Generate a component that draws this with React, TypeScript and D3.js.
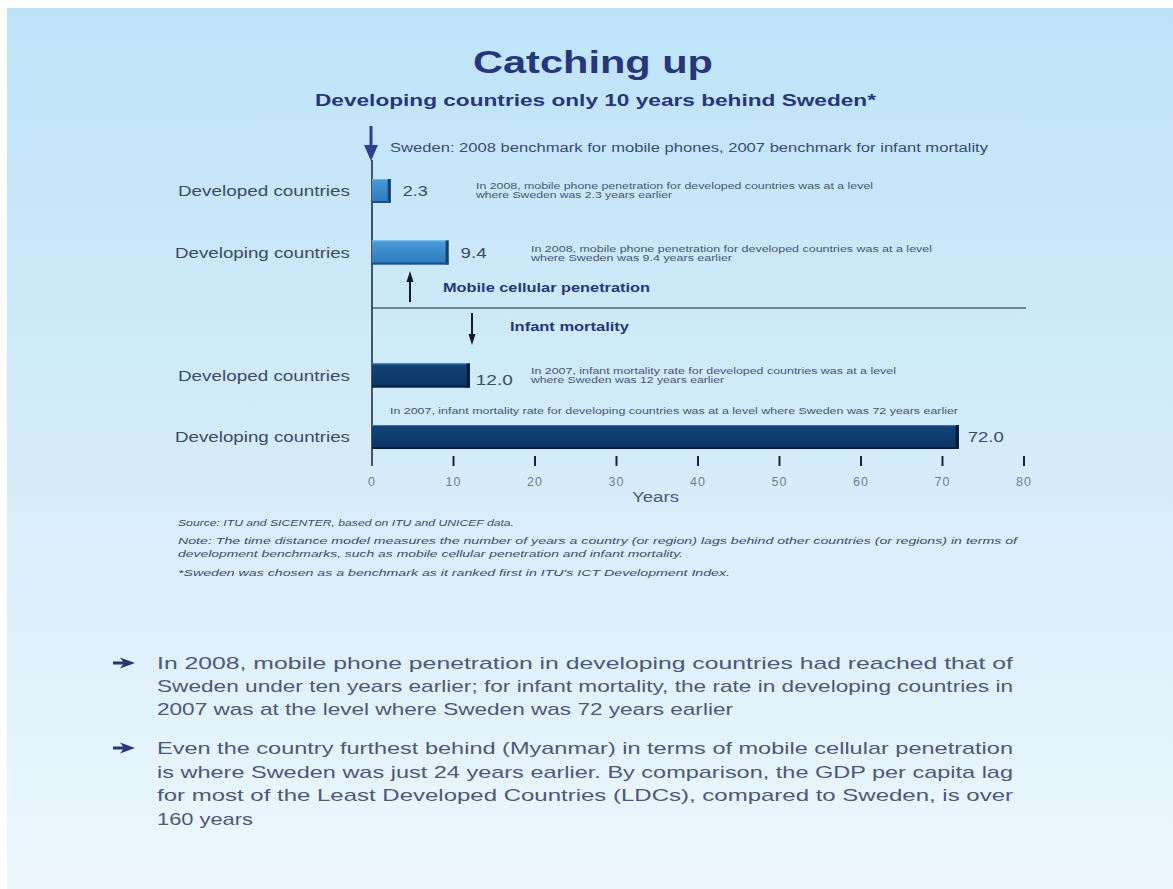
import React from "react";
import * as d3 from "d3";

const slots = ["mob-dev", "mob-ding", "gap", "inf-dev", "inf-ding"];
const barSlots = ["mob-dev", "mob-ding", "inf-dev", "inf-ding"];
const categories = ["Developed countries", "Developing countries", "Developed countries", "Developing countries"];
const groups = ["mobile", "mobile", "infant", "infant"];
const values = [2.3, 9.4, 12.0, 72.0];
const valueLabels = ["2.3", "9.4", "12.0", "72.0"];
const annotations = [
  ["In 2008, mobile phone penetration for developed countries was at a level", "where Sweden was 2.3 years earlier"],
  ["In 2008, mobile phone penetration for developed countries was at a level", "where Sweden was 9.4 years earlier"],
  ["In 2007, infant mortality rate for developed countries was at a level", "where Sweden was 12 years earlier"],
  ["In 2007, infant mortality rate for developing countries was at a level where Sweden was 72 years earlier"],
];
const xTicks = [0, 10, 20, 30, 40, 50, 60, 70, 80];

const title = "Catching up";
const subtitle = "Developing countries only 10 years behind Sweden*";
const benchmarkNote = "Sweden: 2008 benchmark for mobile phones, 2007 benchmark for infant mortality";
const sectionLabels = ["Mobile cellular penetration", "Infant mortality"];
const footnotes = [
  "Source: ITU and SICENTER, based on ITU and UNICEF data.",
  "Note: The time distance model measures the number of years a country (or region) lags behind other countries (or regions) in terms of",
  "development benchmarks, such as mobile cellular penetration and infant mortality.",
  "*Sweden was chosen as a benchmark as it ranked first in ITU's ICT Development Index.",
];
const bullets = [
  [
    "In 2008, mobile phone penetration in developing countries had reached that of",
    "Sweden under ten years earlier; for infant mortality, the rate in developing countries in",
    "2007 was at the level where Sweden was 72 years earlier",
  ],
  [
    "Even the country furthest behind (Myanmar) in terms of mobile cellular penetration",
    "is where Sweden was just 24 years earlier. By comparison, the GDP per capita lag",
    "for most of the Least Developed Countries (LDCs), compared to Sweden, is over",
    "160 years",
  ],
];

const FONT = "'Liberation Sans', Arial, Helvetica, sans-serif";
const NAVY = "#27367c";

function T(props: any) {
  const { x, y, w, size, weight, fill, anchor, italic, children } = props;
  return (
    <text
      x={x}
      y={y}
      fontSize={size}
      fontWeight={weight || "normal"}
      fontStyle={italic ? "italic" : "normal"}
      fill={fill || "#3c4a6e"}
      textAnchor={anchor || "start"}
      fontFamily={FONT}
      textLength={w}
      lengthAdjust={w ? "spacingAndGlyphs" : undefined}
    >
      {children}
    </text>
  );
}

export default function App() {
  const W = 1173;
  const H = 889;
  const x = d3.scaleLinear().domain([0, 80]).range([372, 1024]);
  const yc = d3.scalePoint<string>().domain(slots).range([191, 437]);
  const barH = 24;

  const catWidths = [172, 175, 172, 175];
  const valueWidths = [25, 26, 37, 36];
  const valueDy = [5, 5, 9, 5];
  const annX = [476, 531, 531, 390];
  const annW = [[397, 196], [401, 201], [365, 193], [568]];
  const annY = [[186, 195], [249, 258], [371, 380], [411]];

  const footY = [526, 544, 557, 576];
  const footW = [336, 839, 505, 552];

  const bulletX = 157;
  const bulletFull = 856;
  const lastWidths = [576, 96];
  const bulletY = [[669, 692, 715], [754, 778, 801, 825]];

  return (
    <svg width={W} height={H} style={{ position: "absolute", left: 0, top: 0 }}>
      <defs>
        <linearGradient id="bg" x1="0" y1="0" x2="0" y2="1">
          <stop offset="0" stopColor="#bee3f8" />
          <stop offset="0.5" stopColor="#d4ecf9" />
          <stop offset="1" stopColor="#ecf7fd" />
        </linearGradient>
        <linearGradient id="mob" x1="0" y1="0" x2="0" y2="1">
          <stop offset="0" stopColor="#4b9bd6" />
          <stop offset="1" stopColor="#2a79bd" />
        </linearGradient>
        <linearGradient id="inf" x1="0" y1="0" x2="0" y2="1">
          <stop offset="0" stopColor="#124477" />
          <stop offset="1" stopColor="#0a3464" />
        </linearGradient>
      </defs>
      <rect x={0} y={0} width={W} height={H} fill="#ffffff" />
      <rect x={7} y={8} width={W - 7} height={H - 8} fill="url(#bg)" />

      <T x={473} y={73} w={240} size={31} weight="bold" fill={NAVY}>{title}</T>
      <T x={315} y={106} w={561} size={16} weight="bold" fill={NAVY}>{subtitle}</T>

      {/* Sweden benchmark arrow */}
      <line x1={371} y1={126} x2={371} y2={150} stroke="#2c3f8f" strokeWidth={3} />
      <path d="M364,145 L378,145 L371,161 Z" fill="#2c3f8f" />
      <T x={390} y={152} w={598} size={12.5} fill="#3b4a78">{benchmarkNote}</T>

      {/* axis line */}
      <line x1={x(0)} y1={160} x2={x(0)} y2={466} stroke="#1b2233" strokeWidth={1.5} />
      {/* separator */}
      <line x1={x(0)} y1={308} x2={1026} y2={308} stroke="#1b2233" strokeWidth={1.2} />

      {/* section arrows and labels */}
      <line x1={410} y1={280} x2={410} y2={302} stroke="#151a28" strokeWidth={2} />
      <path d="M406.5,282 L413.5,282 L410,271 Z" fill="#151a28" />
      <T x={443} y={292} w={207} size={12.5} weight="bold" fill={NAVY}>{sectionLabels[0]}</T>
      <line x1={472} y1={313} x2={472} y2={336} stroke="#151a28" strokeWidth={2} />
      <path d="M468.5,334 L475.5,334 L472,345 Z" fill="#151a28" />
      <T x={510} y={331} w={119} size={12.5} weight="bold" fill={NAVY}>{sectionLabels[1]}</T>

      {/* bars */}
      {barSlots.map((s, i) => {
        const cy = yc(s) as number;
        const y0 = cy - barH / 2;
        const x0 = x(0);
        const x1 = x(values[i]);
        const mobile = groups[i] === "mobile";
        return (
          <g key={s}>
            <rect x={x0} y={y0} width={x1 - x0} height={barH} fill={mobile ? "url(#mob)" : "url(#inf)"} />
            <line x1={x0} y1={y0 + 0.5} x2={x1} y2={y0 + 0.5} stroke={mobile ? "#6fb4e6" : "#3c78ad"} strokeWidth={1} />
            <line x1={x1 - 1.5} y1={y0} x2={x1 - 1.5} y2={y0 + barH} stroke={mobile ? "#163f6e" : "#04172f"} strokeWidth={3} />
            <line x1={x0} y1={y0 + barH - 1} x2={x1} y2={y0 + barH - 1} stroke={mobile ? "#1d4f85" : "#05203f"} strokeWidth={2} />
            <T x={350} y={cy + 5} w={catWidths[i]} size={14.5} anchor="end" fill="#3c4a6a">{categories[i]}</T>
            <T x={x1 + (i === 3 ? 9 : i === 2 ? 6 : 12)} y={cy + valueDy[i]} w={valueWidths[i]} size={14} fill="#3c4a6a">{valueLabels[i]}</T>
            {annotations[i].map((line, j) => (
              <T key={j} x={annX[i]} y={annY[i][j] + 3} w={annW[i][j]} size={8.5} fill="#46547a">{line}</T>
            ))}
          </g>
        );
      })}

      {/* ticks */}
      {xTicks.filter((t) => t > 0).map((t) => (
        <line key={t} x1={x(t)} y1={456} x2={x(t)} y2={466} stroke="#1b2233" strokeWidth={2} />
      ))}
      {xTicks.map((t) => (
        <text key={t} x={x(t)} y={486} textAnchor="middle" fontFamily={FONT} fontSize={12.5} fill="#6f7d9c" letterSpacing={1}>
          {t}
        </text>
      ))}
      <T x={632} y={502} w={47} size={14} fill="#4a5878">Years</T>

      {/* footnotes */}
      {footnotes.map((f, i) => (
        <T key={i} x={178} y={footY[i]} w={footW[i]} size={9} italic fill="#3d4a70">{f}</T>
      ))}

      {/* bullets */}
      {bullets.map((lines, b) => (
        <g key={b}>
          <path
            transform={`translate(113,${bulletY[b][0] - 6})`}
            d="M0,-1.6 L10,-1.6 L7,-5.5 L22,0 L7,5.5 L10,1.6 L0,1.6 Z"
            fill={NAVY}
          />
          {lines.map((line, j) => (
            <T
              key={j}
              x={bulletX}
              y={bulletY[b][j]}
              w={j === lines.length - 1 ? lastWidths[b] : bulletFull}
              size={17}
              fill="#4e5878"
            >
              {line}
            </T>
          ))}
        </g>
      ))}
    </svg>
  );
}
